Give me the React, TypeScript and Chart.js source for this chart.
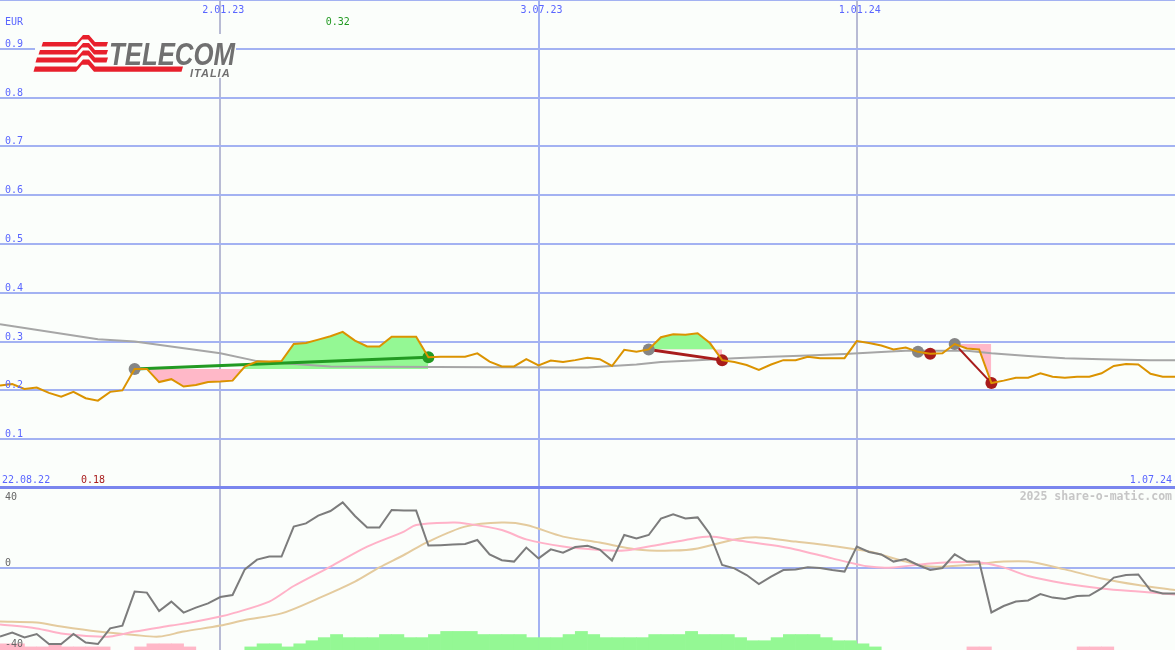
import React, { useEffect, useRef } from 'react';
import { Chart, registerables } from 'chart.js';

Chart.register(...registerables);

// ---------------- data ----------------
const weekCount = 96;
const xGridWeeks = [18, 44, 70];
const xGridLabels = ['2.01.23', '3.07.23', '1.01.24'];
const firstDateLabel = '22.08.22';
const lastDateLabel = '1.07.24';
const currency = 'EUR';
const priceGrid = [0, 0.1, 0.2, 0.3, 0.4, 0.5, 0.6, 0.7, 0.8, 0.9, 1.0];
const oscLabels = ['40', '0', '-40'];
const oscLabelValues = [40, 0, -40];
const watermark = '2025 share-o-matic.com';

// weekly closing price (EUR), week 0 .. 96
const price = [
  0.210, 0.213, 0.203, 0.206, 0.195, 0.187, 0.197, 0.184, 0.179, 0.197,
  0.200, 0.244, 0.244, 0.217, 0.223, 0.208, 0.211, 0.217, 0.218, 0.220,
  0.249, 0.259, 0.259, 0.260, 0.295, 0.297, 0.304, 0.311, 0.320, 0.302,
  0.290, 0.290, 0.310, 0.310, 0.310, 0.268, 0.269, 0.269, 0.269, 0.276,
  0.259, 0.249, 0.249, 0.264, 0.251, 0.261, 0.258, 0.262, 0.267, 0.264,
  0.250, 0.283, 0.279, 0.284, 0.309, 0.315, 0.314, 0.317, 0.297, 0.262,
  0.258, 0.252, 0.242, 0.253, 0.262, 0.262, 0.269, 0.266, 0.266, 0.266,
  0.301, 0.297, 0.292, 0.284, 0.288, 0.279, 0.275, 0.276, 0.295, 0.286,
  0.284, 0.215, 0.220, 0.226, 0.226, 0.235, 0.228, 0.226, 0.228, 0.228,
  0.235, 0.250, 0.254, 0.253, 0.234, 0.228, 0.228,
];

// long moving average (grey)
const maWeeks = [0, 8, 11, 18, 21, 24, 27, 40, 48, 50, 52, 54, 57, 60, 63, 66, 69, 72, 74, 79, 81, 84, 87, 90, 94, 96];
const maValues = [0.3355, 0.305, 0.300, 0.276, 0.260, 0.254, 0.249, 0.2473, 0.247, 0.25, 0.253, 0.258, 0.262, 0.266, 0.269, 0.2715, 0.2746, 0.2787, 0.281, 0.281, 0.276, 0.2705, 0.266, 0.264, 0.262, 0.262];

// trades (signals)
const tradeEntries = [11, 53, 75, 78];
const tradeExits = [35, 59, 76, 81];

// oscillator (lower panel), week 0 .. 96
const oscillator = [
  -34.3, -32.3, -34.7, -33, -38, -38, -33, -37.3, -38, -30.2,
  -28.8, -11.8, -12.3, -21.5, -16.8, -22.3, -19.8, -17.7, -14.5, -13.5,
  -0.7, 4.2, 5.7, 5.7, 20.7, 22.3, 26.2, 28.5, 32.8, 26,
  20.2, 20.2, 29, 28.7, 28.7, 11.2, 11.4, 11.7, 12, 14,
  6.8, 3.9, 3.2, 10.2, 4.8, 9.3, 7.7, 10.5, 11.1, 9.2,
  3.7, 16.5, 14.8, 16.5, 24.7, 26.8, 24.8, 25.3, 17, 1.5,
  -0.2, -3.5, -8, -4.3, -1, -0.7, 0.35, 0, -1, -1.8,
  10.7, 8, 6.8, 3.2, 4.5, 1.5, -1, 0, 6.8, 3.2,
  3.2, -22.2, -19, -16.8, -16.2, -13, -14.8, -15.5, -14, -13.8,
  -10.2, -4.8, -3.5, -3.2, -11.2, -12.7, -12.7,
];

// oscillator signal lines
const pinkWeeks = [0, 3, 5, 8, 9, 11, 14, 16, 18, 19, 22, 24, 27, 30, 33, 34, 37, 38, 41, 43, 46, 49, 51, 53, 56, 58, 60, 63, 65, 68, 71, 73, 76, 80, 82, 84, 87, 90, 93, 96];
const pinkValues = [-28.2, -30.2, -32.7, -34.3, -34.3, -31.8, -28.8, -26.8, -24.3, -22.7, -16.8, -9, 0.7, 10.7, 18.2, 21.5, 22.7, 22.3, 19, 14.3, 10.7, 9, 8.7, 10.7, 14, 15.7, 14, 11.5, 9.3, 4.8, 0.7, 0.3, 2.3, 2.8, 0.3, -4, -7.7, -10.2, -11.8, -13.2];
const tanWeeks = [0, 3, 5, 8, 11, 13, 15, 18, 20, 23, 26, 29, 31, 33, 35, 38, 41, 43, 46, 49, 52, 55, 57, 60, 62, 65, 68, 71, 74, 76, 79, 82, 84, 87, 90, 93, 96];
const tanValues = [-26.8, -27.3, -29.3, -31.8, -33.5, -34.3, -31.8, -28.8, -26, -22.7, -15.2, -6.8, 0.3, 6.5, 13.2, 20.7, 22.7, 21.5, 15.7, 12.7, 9.3, 8.7, 9.8, 14.3, 15.3, 13.2, 11, 8.2, 3.2, 0.7, 1.5, 3.2, 3.2, -0.7, -5.2, -8.5, -11];

// histogram levels per week interval (positive green, negative pink)
const histogram = [
  -2, -2, -1, -1, -2, -1, -1, -1, -1, 0,
  0, -1, -2, -2, -2, -1, 0, 0, 0, 0,
  1, 2, 2, 1, 2, 3, 4, 5, 4, 4,
  4, 5, 5, 4, 4, 5, 6, 6, 6, 5,
  5, 5, 5, 4, 4, 4, 5, 6, 5, 4,
  4, 4, 4, 5, 5, 5, 6, 5, 5, 5,
  4, 3, 3, 4, 5, 5, 5, 4, 3, 3,
  2, 1, 0, 0, 0, 0, 0, 0, 0, -1,
  -1, 0, 0, 0, 0, 0, 0, 0, -1, -1,
  -1, 0, 0, 0, 0, 0,
];

// ---------------- styles ----------------
const BG = '#fbfefb';
const BLUE_TEXT = '#5a66ff';
const GRID = '#a3b2f2';
const GRID_DARK = '#7a86ee';
const YEAR_LINE = '#b8bbd4';
const PRICE_COLOR = '#db9300';
const MA_COLOR = '#a6a6a6';
const GREEN_FILL = '#94f894';
const PINK_FILL = '#ffb8c8';
const WIN = '#229a22';
const LOSS = '#a81c1c';
const ENTRY = '#858585';
const tradeLineWidths = [3, 3, 3, 2];
const MONO = '"DejaVu Sans Mono", monospace';

function drawLogo(ctx: CanvasRenderingContext2D) {
  ctx.save();
  ctx.fillStyle = BG;
  ctx.fillRect(35, 34, 201, 44);
  ctx.fillStyle = '#e8202c';
  const bands = [
    { x0: 43, y: 42, t: 4.6, x1: 108 },
    { x0: 40, y: 50, t: 4.6, x1: 108 },
    { x0: 37, y: 57.5, t: 5, x1: 108 },
    { x0: 35, y: 66.5, t: 5.2, x1: 183 },
  ];
  bands.forEach((b) => {
    const h = 7;
    ctx.beginPath();
    ctx.moveTo(b.x0, b.y);
    ctx.lineTo(77, b.y);
    ctx.lineTo(83, b.y - h);
    ctx.lineTo(89, b.y - h);
    ctx.lineTo(95, b.y);
    ctx.lineTo(b.x1, b.y);
    ctx.lineTo(b.x1 - 1.5, b.y + b.t);
    ctx.lineTo(94, b.y + b.t);
    ctx.lineTo(88, b.y + b.t - h);
    ctx.lineTo(82, b.y + b.t - h);
    ctx.lineTo(76, b.y + b.t);
    ctx.lineTo(b.x0 - 1.5, b.y + b.t);
    ctx.closePath();
    ctx.fill();
  });
  ctx.fillStyle = '#707070';
  ctx.font = 'italic bold 32px "Liberation Sans", Arial, sans-serif';
  ctx.textBaseline = 'alphabetic';
  ctx.textAlign = 'left';
  const w = ctx.measureText('TELECOM').width;
  ctx.save();
  ctx.translate(109, 65);
  ctx.scale(126 / w, 1);
  ctx.fillText('TELECOM', 0, 0);
  ctx.restore();
  ctx.font = 'italic bold 11px "Liberation Sans", Arial, sans-serif';
  (ctx as any).letterSpacing = '1px';
  ctx.fillText('ITALIA', 190, 76.5);
  (ctx as any).letterSpacing = '0px';
  ctx.restore();
}

const decorPlugin = {
  id: 'decor',
  beforeDraw(chart: any) {
    const { ctx, width, height } = chart;
    ctx.save();
    ctx.fillStyle = BG;
    ctx.fillRect(0, 0, width, height);
    ctx.restore();
  },
  afterDraw(chart: any) {
    const ctx: CanvasRenderingContext2D = chart.ctx;
    const sx = chart.scales.x;
    const sy = chart.scales.y;
    const so = chart.scales.y2;
    ctx.save();
    drawLogo(ctx);
    ctx.font = `10px ${MONO}`;
    ctx.textBaseline = 'alphabetic';
    ctx.fillStyle = BLUE_TEXT;
    ctx.textAlign = 'left';
    priceGrid
      .filter((v) => v > 0 && v < 1)
      .forEach((v) => ctx.fillText(v.toFixed(1), 5, sy.getPixelForValue(v) - 2));
    ctx.fillText(currency, 5, 25);
    ctx.textAlign = 'center';
    xGridWeeks.forEach((wk, i) => ctx.fillText(xGridLabels[i], sx.getPixelForValue(wk) + 3, 13));
    const baseY = sy.getPixelForValue(0) - 5;
    ctx.textAlign = 'left';
    ctx.fillText(firstDateLabel, 2, baseY);
    ctx.textAlign = 'right';
    ctx.fillText(lastDateLabel, 1172, baseY);

    const maxV = Math.max(...price);
    const minV = Math.min(...price);
    ctx.textAlign = 'center';
    ctx.fillStyle = WIN;
    ctx.fillText(maxV.toFixed(2), sx.getPixelForValue(price.indexOf(maxV)) - 5, 25);
    ctx.fillStyle = LOSS;
    ctx.fillText(minV.toFixed(2), sx.getPixelForValue(price.indexOf(minV)) - 5, baseY);

    ctx.fillStyle = '#666666';
    ctx.textAlign = 'left';
    oscLabels.forEach((t, i) => {
      const v = oscLabelValues[i];
      const py = so.getPixelForValue(v);
      const y = v > 0 ? py + 12 : v === 0 ? py - 2 : py - 1;
      ctx.fillText(t, 5, y);
    });

    ctx.font = `bold 11.5px ${MONO}`;
    ctx.fillStyle = '#c6c6c6';
    ctx.textAlign = 'right';
    ctx.fillText(watermark, 1172, 500);
    ctx.restore();
  },
};

export default function App() {
  const ref = useRef<HTMLCanvasElement>(null);
  useEffect(() => {
    const canvas = ref.current;
    if (!canvas) return;
    const datasets: any[] = [];

    // price line (top)
    datasets.push({
      type: 'line',
      data: price.map((y, x) => ({ x, y })),
      borderColor: PRICE_COLOR,
      borderWidth: 2,
      pointRadius: 0,
      tension: 0,
      fill: false,
      yAxisID: 'y',
      order: 0,
    });

    // markers
    const markerPts = [
      ...tradeEntries.map((w) => ({ x: w, y: price[w] })),
      ...tradeExits.map((w) => ({ x: w, y: price[w] })),
    ];
    const markerColors = [
      ...tradeEntries.map(() => ENTRY),
      ...tradeExits.map((w, i) => (price[w] >= price[tradeEntries[i]] ? WIN : LOSS)),
    ];
    datasets.push({
      type: 'line',
      data: markerPts,
      showLine: false,
      pointRadius: 6,
      pointBorderWidth: 0,
      pointBackgroundColor: markerColors,
      pointBorderColor: markerColors,
      yAxisID: 'y',
      order: 1,
    });

    // trade lines and fills
    tradeEntries.forEach((e, i) => {
      const x = tradeExits[i];
      const win = price[x] >= price[e];
      datasets.push({
        type: 'line',
        data: [
          { x: e, y: price[e] },
          { x, y: price[x] },
        ],
        borderColor: win ? WIN : LOSS,
        borderWidth: tradeLineWidths[i],
        pointRadius: 0,
        tension: 0,
        fill: false,
        yAxisID: 'y',
        order: 2,
      });
      const seg = [];
      for (let w = e; w <= x; w++) seg.push({ x: w, y: price[w] });
      datasets.push({
        type: 'line',
        data: seg,
        borderWidth: 0,
        borderColor: 'rgba(0,0,0,0)',
        pointRadius: 0,
        tension: 0,
        fill: { target: { value: price[e] }, above: GREEN_FILL, below: PINK_FILL },
        yAxisID: 'y',
        order: 8,
      });
    });

    // long MA
    datasets.push({
      type: 'line',
      data: maWeeks.map((x, i) => ({ x, y: maValues[i] })),
      borderColor: MA_COLOR,
      borderWidth: 2,
      pointRadius: 0,
      tension: 0,
      fill: false,
      yAxisID: 'y',
      order: 3,
    });

    // oscillator panel
    datasets.push({
      type: 'line',
      data: oscillator.map((y, x) => ({ x, y })),
      borderColor: '#7c7c7c',
      borderWidth: 2,
      pointRadius: 0,
      tension: 0,
      fill: false,
      yAxisID: 'y2',
      order: 4,
    });
    datasets.push({
      type: 'line',
      data: pinkWeeks.map((x, i) => ({ x, y: pinkValues[i] })),
      borderColor: '#ffb2c8',
      borderWidth: 2,
      pointRadius: 0,
      tension: 0.3,
      fill: false,
      yAxisID: 'y2',
      order: 5,
    });
    datasets.push({
      type: 'line',
      data: tanWeeks.map((x, i) => ({ x, y: tanValues[i] })),
      borderColor: '#e4cb9e',
      borderWidth: 2,
      pointRadius: 0,
      tension: 0.3,
      fill: false,
      yAxisID: 'y2',
      order: 6,
    });
    datasets.push({
      type: 'bar',
      data: histogram.map((v, i) => ({ x: i + 0.5, y: v === 0 ? null : Math.abs(v) })),
      backgroundColor: histogram.map((v) => (v > 0 ? GREEN_FILL : PINK_FILL)),
      borderWidth: 0,
      barPercentage: 1,
      categoryPercentage: 1,
      yAxisID: 'y3',
      order: 9,
    });

    const chart = new Chart(canvas, {
      type: 'line',
      data: { datasets },
      options: {
        animation: false,
        responsive: false,
        devicePixelRatio: 1,
        events: [],
        layout: { padding: 0, autoPadding: false } as any,
        plugins: { legend: { display: false }, tooltip: { enabled: false } },
        scales: {
          x: {
            type: 'linear',
            min: 0,
            max: weekCount,
            offset: false,
            afterBuildTicks: (s: any) => {
              s.ticks = xGridWeeks.map((value) => ({ value }));
            },
            ticks: { display: false },
            grid: {
              offset: false,
              drawTicks: false,
              color: (c: any) => (c.index === 1 ? GRID : YEAR_LINE),
              lineWidth: 2,
            },
            border: { display: false },
          },
          y: {
            type: 'linear',
            position: 'left',
            min: -0.332,
            max: 1.0,
            afterBuildTicks: (s: any) => {
              s.ticks = priceGrid.map((value) => ({ value }));
            },
            ticks: { display: false },
            grid: {
              drawTicks: false,
              color: (c: any) => (c.tick && c.tick.value === 0 ? GRID_DARK : GRID),
              lineWidth: (c: any) => (c.tick && c.tick.value === 0 ? 3 : 2),
            },
            border: { display: false },
          },
          y2: {
            type: 'linear',
            position: 'left',
            min: -41,
            max: 284,
            afterBuildTicks: (s: any) => {
              s.ticks = [{ value: 0 }];
            },
            ticks: { display: false },
            grid: { drawTicks: false, color: GRID, lineWidth: 2 },
            border: { display: false },
          },
          y3: {
            type: 'linear',
            position: 'left',
            min: 0,
            max: 210,
            display: false,
          },
        } as any,
      },
      plugins: [decorPlugin],
    } as any);
    return () => chart.destroy();
  }, []);

  return (
    <div style={{ position: 'absolute', left: 0, top: 0, width: 1175, height: 650 }}>
      <canvas ref={ref} width={1175} height={650} style={{ display: 'block', width: 1175, height: 650 }} />
    </div>
  );
}
